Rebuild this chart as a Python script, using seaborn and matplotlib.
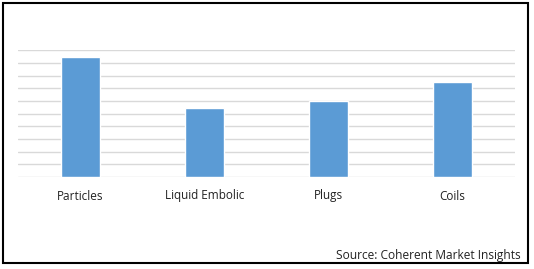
import matplotlib
matplotlib.use("Agg")
import matplotlib.pyplot as plt
import seaborn as sns
import pandas as pd
from matplotlib.patches import Rectangle

categories = ["Particles", "Liquid Embolic", "Plugs", "Coils"]
values = [9.47, 5.45, 6.0, 7.5]
source_text = "Source: Coherent Market Insights"

sns.set_theme(style="white")
plt.rcParams['font.family'] = ['Open Sans', 'DejaVu Sans']

df = pd.DataFrame({"category": categories, "value": values})

fig = plt.figure(figsize=(5.34, 2.69), dpi=100)
ax = fig.add_axes([18.3/534, 1-177/269, (514.7-18.3)/534, (177-50.3)/269])
ax.set_axisbelow(True)
ax.set_ylim(0, 10)
ax.set_yticks(range(0, 11))
ax.yaxis.grid(True, color="#d9d9d9", linewidth=1.0)
ax.xaxis.grid(False)
sns.barplot(data=df, x="category", y="value", color="#5B9BD5", width=0.314,
            saturation=1, ax=ax)
ax.set_xlim(-0.5, 3.5)
ax.set_ylim(0, 10)
for s in ax.spines.values():
    s.set_visible(False)
ax.set_yticklabels([])
ax.tick_params(axis="y", length=0)
ax.tick_params(axis="x", length=0, pad=9, labelsize=8.5, labelcolor="#222222")
ax.set_xlabel("")
ax.set_ylabel("")

fig.patches.append(Rectangle((3.3/534, 1-263.3/269), (528.3-3.3)/534, (263.3-3.3)/269,
                             transform=fig.transFigure, fill=False,
                             edgecolor="black", linewidth=1.5))
fig.text(521/534, 1-256/269, source_text, ha="right", va="center", fontsize=8.6,
         color="#222222")

fig.savefig("out.png", dpi=100)
